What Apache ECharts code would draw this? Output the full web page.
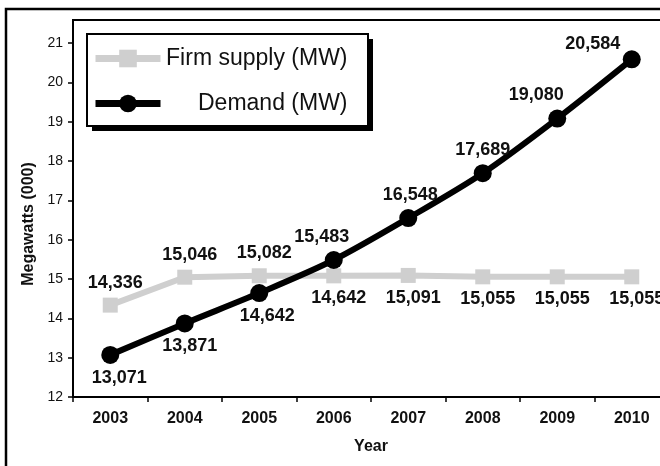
<!DOCTYPE html>
<html>
<head>
<meta charset="utf-8">
<script src="https://cdn.jsdelivr.net/npm/echarts@6/dist/echarts.min.js"></script>
<style>
  html, body { margin: 0; padding: 0; background: #fff; }
  #chart { width: 660px; height: 466px; }
</style>
</head>
<body>
<div id="chart"></div>
<script>
// data (thousands of MW)
const years = ['2003', '2004', '2005', '2006', '2007', '2008', '2009', '2010']
const supply = [14.336, 15.046, 15.082, 15.08, 15.091, 15.055, 15.055, 15.055]
const supplyLabels = ['14,336', '15,046', '15,082', '14,642', '15,091', '15,055', '15,055', '15,055']
const demand = [13.071, 13.871, 14.642, 15.483, 16.548, 17.689, 19.080, 20.584]
const demandLabels = ['13,071', '13,871', '14,642', '15,483', '16,548', '17,689', '19,080', '20,584']
const yTicks = [12, 13, 14, 15, 16, 17, 18, 19, 20, 21]

// label placement tweaks
const supplyPos = i => (i < 3 ? 'top' : 'bottom')
const demandPos = i => (i < 3 ? 'bottom' : 'top')
const demandShift = { 0: [9, 0], 1: [5, 0], 2: [8, 0], 3: [-12, 0], 4: [2, 0], 6: [-21, 0], 7: [-39, 8] }

const FONT = 'Liberation Sans, Arial'
const labelFont = { fontFamily: FONT, fontWeight: 'bold', fontSize: 18, color: '#111' }

const chart = echarts.init(document.getElementById('chart'))

const option = {
  backgroundColor: '#fff',
  animation: false,
  graphic: [
    // outer frame
    {
      type: 'rect',
      shape: { x: 6, y: 9, width: 700, height: 500 },
      style: { fill: 'none', stroke: '#000', lineWidth: 2.5 },
      z: 100
    },
    // legend box shadow + box
    {
      type: 'rect',
      shape: { x: 92, y: 39, width: 281, height: 92 },
      style: { fill: '#000' },
      z: 10
    },
    {
      type: 'rect',
      shape: { x: 87, y: 34, width: 281, height: 92 },
      style: { fill: '#fff', stroke: '#000', lineWidth: 2 },
      z: 11
    }
  ],
  legend: {
    orient: 'vertical',
    left: 92,
    top: 47,
    padding: 0,
    itemGap: 22,
    itemWidth: 65,
    itemHeight: 22,
    z: 20,
    lineStyle: { width: 7 },
    formatter: name => '{t|' + name + '}',
    textStyle: {
      rich: {
        t: { width: 182, lineHeight: 24, align: 'right', fontFamily: FONT, fontSize: 23, color: '#111' }
      }
    },
    data: ['Firm supply (MW)', 'Demand (MW)']
  },
  grid: {
    left: 73,
    top: 20,
    right: -9,
    bottom: 69,
    show: true,
    borderColor: '#000',
    borderWidth: 2,
    outerBoundsMode: 'none'
  },
  xAxis: {
    type: 'category',
    data: years,
    boundaryGap: true,
    name: 'Year',
    nameLocation: 'middle',
    nameGap: 42,
    nameTextStyle: { fontFamily: FONT, fontWeight: 'bold', fontSize: 16, color: '#111' },
    axisLine: { lineStyle: { color: '#000', width: 2 } },
    axisTick: { show: true, length: 5, lineStyle: { color: '#000', width: 1.5 } },
    axisLabel: { margin: 14, fontFamily: FONT, fontWeight: 'bold', fontSize: 16, color: '#111' },
    splitLine: { show: false }
  },
  yAxis: {
    type: 'value',
    min: 12,
    max: 21.585,
    interval: 1,
    name: 'Megawatts (000)',
    nameLocation: 'middle',
    nameRotate: 90,
    nameGap: 36,
    nameTextStyle: { fontFamily: FONT, fontWeight: 'bold', fontSize: 16, color: '#111', padding: [0, 31, 0, 0] },
    axisLine: { show: true, lineStyle: { color: '#000', width: 2 } },
    axisTick: { show: true, length: 5, customValues: yTicks, lineStyle: { color: '#000', width: 1.5 } },
    axisLabel: { margin: 10, customValues: yTicks, fontFamily: FONT, fontSize: 14, color: '#111' },
    splitLine: { show: false }
  },
  series: [
    {
      name: 'Firm supply (MW)',
      type: 'line',
      data: supply.map((v, i) => ({
        value: v,
        label: { position: supplyPos(i), formatter: supplyLabels[i] }
      })),
      symbol: 'rect',
      symbolSize: 15,
      lineStyle: { color: '#cfcfcf', width: 6 },
      itemStyle: { color: '#cfcfcf' },
      label: { show: true, distance: 6, offset: [5, 0], ...labelFont },
      z: 2
    },
    {
      name: 'Demand (MW)',
      type: 'line',
      smooth: 0.3,
      data: demand.map((v, i) => ({
        value: v,
        label: { position: demandPos(i), formatter: demandLabels[i], offset: demandShift[i] || [0, 0] }
      })),
      symbol: 'circle',
      symbolSize: 18,
      lineStyle: { color: '#000', width: 6 },
      itemStyle: { color: '#000' },
      label: { show: true, distance: 5, ...labelFont },
      z: 3
    }
  ]
}

chart.setOption(option)
</script>
</body>
</html>
